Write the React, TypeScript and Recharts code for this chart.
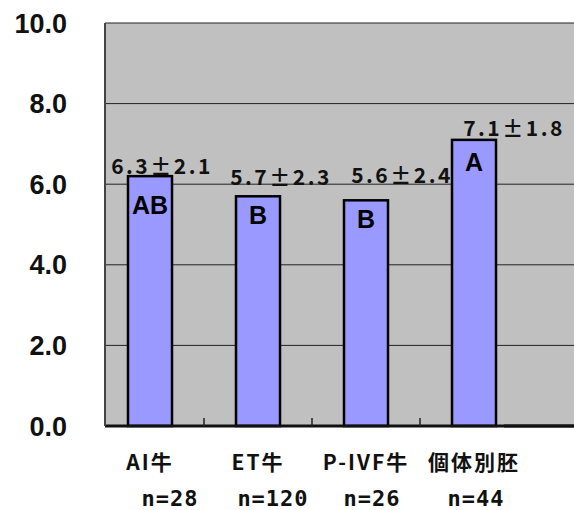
import React from 'react';
import { BarChart, Bar, XAxis, YAxis, CartesianGrid } from 'recharts';

const categories = ['AI牛', 'ET牛', 'P-IVF牛', '個体別胚'];
const sampleSizes = ['n=28', 'n=120', 'n=26', 'n=44'];
const means = [6.2, 5.7, 5.6, 7.1];
const meanLabels = ['6.3±2.1', '5.7±2.3', '5.6±2.4', '7.1±1.8'];
const groupLetters = ['AB', 'B', 'B', 'A'];
const yTicks = [0, 2, 4, 6, 8, 10];

// label placement tweaks (px), per category
const meanLabelDx = [12, 23, 36, 40];
const meanLabelDy = [-11, -20, -26, -13];
const letterDy = [29, 19, 19, 22];
const nLabelDx = [20, 15, 6, 2];

const data = categories.map((name, i) => ({
  name,
  n: sampleSizes[i],
  value: means[i],
  meanLabel: meanLabels[i],
  letter: groupLetters[i],
}));

const jpFont = "'Noto Sans CJK JP', sans-serif";
const monoFont = "'DejaVu Sans Mono', 'Noto Sans CJK JP', monospace";

const BarShape = (props: any) => {
  const { x, y, width, height, index } = props;
  const cx = x + width / 2;
  return (
    <g>
      <rect x={x} y={y} width={width} height={height} fill="#9999ff" stroke="#000" strokeWidth={2.5} />
      <text
        x={cx + meanLabelDx[index]}
        y={y + meanLabelDy[index]}
        textAnchor="middle"
        dominantBaseline="central"
        fontFamily={jpFont}
        fontWeight="bold"
        fontSize={21}
        letterSpacing={2.5}
        fill="#111"
      >
        {data[index].meanLabel}
      </text>
      <text
        x={cx}
        y={y + letterDy[index]}
        textAnchor="middle"
        dominantBaseline="central"
        fontFamily="'Liberation Sans', Arial, sans-serif"
        fontWeight="bold"
        fontSize={25}
        fill="#000"
      >
        {data[index].letter}
      </text>
    </g>
  );
};

const CategoryTick = (props: any) => {
  const { x, y, index } = props;
  const last = index === categories.length - 1;
  return (
    <g>
      {!last && <line x1={x + 54} x2={x + 54} y1={y - 2} y2={y - 10} stroke="#222" strokeWidth={1.5} />}
      {/* axis line stops at the padded range; carry it to the plot edge */}
      {last && <line x1={x + 30} x2={x + 130} y1={y - 2} y2={y - 2} stroke="#111" strokeWidth={3} />}
      <text
        x={x}
        y={y + 33}
        textAnchor="middle"
        dominantBaseline="central"
        fontFamily={jpFont}
        fontWeight="bold"
        fontSize={21}
        letterSpacing={2}
        fill="#111"
      >
        {categories[index]}
      </text>
      <text
        x={x + nLabelDx[index]}
        y={y + 70}
        textAnchor="middle"
        dominantBaseline="central"
        fontFamily={monoFont}
        fontWeight="bold"
        fontSize={22}
        letterSpacing={1}
        fill="#111"
      >
        {sampleSizes[index]}
      </text>
    </g>
  );
};

export default function App() {
  return (
    <div style={{ position: 'absolute', left: 0, top: 0, background: '#fff' }}>
      <BarChart width={574} height={510} data={data} margin={{ top: 23, right: 0, bottom: 0, left: 0 }} barCategoryGap={32}>
        <CartesianGrid vertical={false} stroke="#222" fill="#c0c0c0" />
        <XAxis
          dataKey="name"
          height={84}
          padding={{ left: -9, right: 46 }}
          tickLine={false}
          tickSize={0}
          axisLine={{ stroke: '#111', strokeWidth: 3 }}
          tick={<CategoryTick />}
          interval={0}
        />
        <YAxis
          width={105}
          domain={[0, 10]}
          ticks={yTicks}
          tickFormatter={(v: number) => v.toFixed(1)}
          tickLine={false}
          tickSize={0}
          tickMargin={38}
          axisLine={{ stroke: '#444', strokeWidth: 2 }}
          tick={{ fontFamily: "'Liberation Sans', Arial, sans-serif", fontWeight: 'bold', fontSize: 27, fill: '#111' }}
        />
        <Bar dataKey="value" shape={<BarShape />} isAnimationActive={false} />
      </BarChart>
    </div>
  );
}
